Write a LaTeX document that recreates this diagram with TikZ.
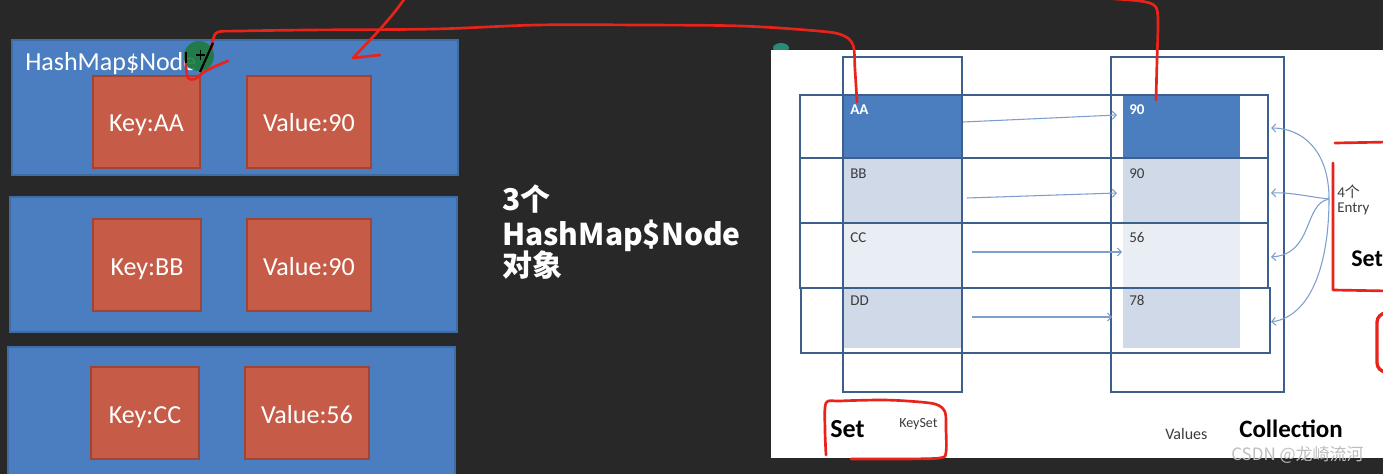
\documentclass[tikz,border=0pt]{standalone}
\usepackage{fontspec}
\setmainfont{Carlito}
\newfontfamily\cjk{Noto Sans CJK SC}
\usetikzlibrary{fit,arrows.meta}
\definecolor{bg}{HTML}{282828}
\definecolor{nodeblue}{HTML}{4A7EC0}
\definecolor{nodeedge}{HTML}{3E6DA6}
\definecolor{kvred}{HTML}{C65B48}
\definecolor{kvedge}{HTML}{A04536}
\definecolor{tline}{HTML}{3D5F8E}
\definecolor{cdark}{HTML}{4A7EBF}
\definecolor{cmid}{HTML}{D0D9E7}
\definecolor{clight}{HTML}{E9EDF4}
\definecolor{tarrowc}{HTML}{7E9ECD}
\definecolor{pen}{HTML}{E8231A}
\definecolor{dot}{HTML}{1D7A3A}
\definecolor{tealmark}{HTML}{2A8A78}
\definecolor{txtgray}{HTML}{3C3C3C}
\definecolor{wm}{HTML}{BEBEBE}
\tikzset{
  nodebox/.style={draw=nodeedge, fill=nodeblue, line width=1pt, inner sep=0pt, fit={#1}},
  kvbox/.style={draw=kvedge, fill=kvred, line width=1.2pt, inner sep=0pt, fit={#1}},
  kvtxt/.style={text=white, inner sep=0pt, anchor=base, font=\fontsize{19.5}{22}\selectfont},
  midtxt/.style={text=white, inner sep=0pt, anchor=base west, font=\cjk\bfseries\fontsize{22.5}{26}\selectfont},
  tbox/.style={draw=tline, line width=1.4pt},
  celltxt/.style={inner sep=0pt, anchor=base west, text=txtgray, font=\fontsize{11.25}{13}\selectfont},
  tarrow/.style={draw=tarrowc, line width=0.8pt, -{Straight Barb[length=3pt,width=6pt]}},
  redpen/.style={draw=pen, line width=2pt, line cap=round, line join=round},
}
\begin{document}
\begin{tikzpicture}[x=0.75pt,y=-0.75pt]
\useasboundingbox (0,0) rectangle (1383,474);
\clip (0,0) rectangle (1383,474);
\fill[bg] (0,0) rectangle (1383,474);

% ---------- left: three HashMap$Node objects ----------
\node[nodebox={(12,40)(458,175)}] (n1) {};
\node[nodebox={(10,197)(457,332)}] (n2) {};
\node[nodebox={(8,347)(455,490)}] (n3) {};
\node[kvbox={(93,76)(200,168)}] (k1) {};
\node[kvbox={(247,76)(371,168)}] (v1) {};
\node[kvbox={(93,219)(201,311)}] (k2) {};
\node[kvbox={(247,219)(371,311)}] (v2) {};
\node[kvbox={(91,367)(199,459)}] (k3) {};
\node[kvbox={(245,367)(369,459)}] (v3) {};
\node[kvtxt] (k1t) at (146.5,132) {Key:AA};
\node[kvtxt] (v1t) at (309,132) {Value:90};
\node[kvtxt] (k2t) at (147,275) {Key:BB};
\node[kvtxt] (v2t) at (309,275) {Value:90};
\node[kvtxt] (k3t) at (145,423) {Key:CC};
\node[kvtxt] (v3t) at (307,423) {Value:56};
\node[kvtxt, anchor=base west] (hn) at (25,71) {HashMap\$Node};

% ---------- middle text ----------
\node[midtxt] (m1) at (502,210) {3个};
\node[midtxt] (m2) at (502,245) {HashMap\$Node};
\node[midtxt] (m3) at (502,276) {对象};

% ---------- right panel ----------
\fill[tealmark] (781,48) ellipse [x radius=8, y radius=5];
\fill[white] (771,50) rectangle (1395,458);

% cells
\fill[cdark] (843,95) rectangle (962,158);
\fill[cmid] (843,158) rectangle (962,223);
\fill[clight] (843,223) rectangle (962,288);
\fill[cmid] (843,288) rectangle (962,348);
\fill[cdark] (1123,95) rectangle (1240,158);
\fill[cmid] (1123,158) rectangle (1240,223);
\fill[clight] (1123,223) rectangle (1240,288);
\fill[cmid] (1123,288) rectangle (1240,348);

% rows and columns
\node[tbox, inner sep=0pt, fit={(800,95)(1268,158)}] (r1) {};
\node[tbox, inner sep=0pt, fit={(800,158)(1268,223)}] (r2) {};
\node[tbox, inner sep=0pt, fit={(800,223)(1268,288)}] (r3) {};
\node[tbox, inner sep=0pt, fit={(801,288)(1270,353)}] (r4) {};
\node[tbox, inner sep=0pt, fit={(843,57)(962,392)}] (kcol) {};
\node[tbox, inner sep=0pt, fit={(1111,57)(1284,392)}] (vcol) {};

% cell texts
\node[celltxt, text=white, font=\bfseries\fontsize{11.25}{13}\selectfont] (tAA) at (850,115) {AA};
\node[celltxt, text=white, font=\bfseries\fontsize{11.25}{13}\selectfont] (t90a) at (1129,115) {90};
\node[celltxt] (tBB) at (850,178) {BB};
\node[celltxt] (t90b) at (1129,178) {90};
\node[celltxt] (tCC) at (850,242) {CC};
\node[celltxt] (t56) at (1129,242) {56};
\node[celltxt] (tDD) at (850,305) {DD};
\node[celltxt] (t78) at (1129,305) {78};

% key -> value arrows
\coordinate (a1s) at (963,122); \coordinate (a1e) at (1117,115);
\coordinate (a2s) at (967,198); \coordinate (a2e) at (1117,193);
\coordinate (a3s) at (972,252); \coordinate (a3e) at (1122,252);
\coordinate (a4s) at (972,317); \coordinate (a4e) at (1112,317);
\draw[tarrow] (a1s) -- (a1e);
\draw[tarrow] (a2s) -- (a2e);
\draw[tarrow] (a3s) -- (a3e);
\draw[tarrow] (a4s) -- (a4e);

% entry arrows
\coordinate (ent) at (1329,199);
\coordinate (e1) at (1271,128);
\coordinate (e2) at (1271,193);
\coordinate (e3) at (1271,257);
\coordinate (e4) at (1271,322);
\draw[tarrow] (ent) .. controls (1329,150) and (1302,128) .. (e1);
\draw[tarrow] (ent) .. controls (1310,197) and (1290,192) .. (e2);
\draw[tarrow] (ent) .. controls (1303,204) and (1314,254) .. (e3);
\draw[tarrow] (ent) .. controls (1329,262) and (1312,316) .. (e4);

\node[celltxt, font=\fontsize{11.25}{13}\selectfont] (cnt) at (1337,197) {4{\cjk\fontsize{11.25}{13}\selectfont 个}};
\node[celltxt, font=\fontsize{11.25}{13}\selectfont] (entry) at (1337,212) {Entry};
\node[celltxt, text=black, font=\bfseries\fontsize{18}{21}\selectfont] (set2) at (1351,266) {Set};

% bottom labels
\node[celltxt, text=black, font=\bfseries\fontsize{19.5}{22}\selectfont] (set1) at (830,437) {Set};
\node[celltxt, font=\fontsize{10.5}{12}\selectfont] (ks) at (899,427) {KeySet};
\node[celltxt, font=\fontsize{12}{14}\selectfont] (vals) at (1165,439) {Values};
\node[celltxt, text=black, font=\bfseries\fontsize{18.75}{21}\selectfont] (coll) at (1239,437) {Collection};

% ---------- hand-drawn red annotations ----------
\draw[redpen] plot[smooth, tension=0.55] coordinates {(857,102) (855,70) (853,45) (842,35) (818,31) (741,26) (640,25) (537,25) (435,29) (308,30) (240,31) (218,32) (213,40) (211,50)};
\draw[redpen] plot[smooth, tension=0.5] coordinates {(186,52) (186,66) (188,78) (195,79) (204,72) (216,66) (228,61)};
\draw[redpen] (405,-2) .. controls (390,20) and (370,40) .. (353,58) -- (380,55);
\draw[redpen] plot[smooth, tension=0.5] coordinates {(1156,100) (1157,60) (1158,20) (1155,6) (1140,1) (1100,-2)};
\draw[redpen] (1335,143) -- (1390,142);
\draw[redpen] (1333,163) -- (1333,290) -- (1390,291);
\draw[pen, line width=2.5pt, fill=white, rounded corners=7pt] (1377,313) rectangle (1420,372);
\draw[redpen] plot[smooth, tension=0.5] coordinates {(826,455) (825,430) (826,403) (840,401) (880,400) (907,401) (935,404) (945,412) (946,430) (946,452) (940,458) (900,459) (851,459)};

% green cursor dot
\fill[dot, fill opacity=0.88] (199,56) circle [radius=15];
\draw[black, line width=1.6pt] (213,43) -- (200,72);
\draw[black, line width=1.2pt] (196,55) -- (205,55) (200.5,50) -- (200.5,60);
\draw[black, line width=1.4pt] (186,52) -- (186,63);

% watermark
\node[celltxt, text=wm, font=\cjk\fontsize{12.75}{14}\selectfont] (wmk) at (1231,460) {CSDN @龙崎流河};
\end{tikzpicture}
\end{document}
